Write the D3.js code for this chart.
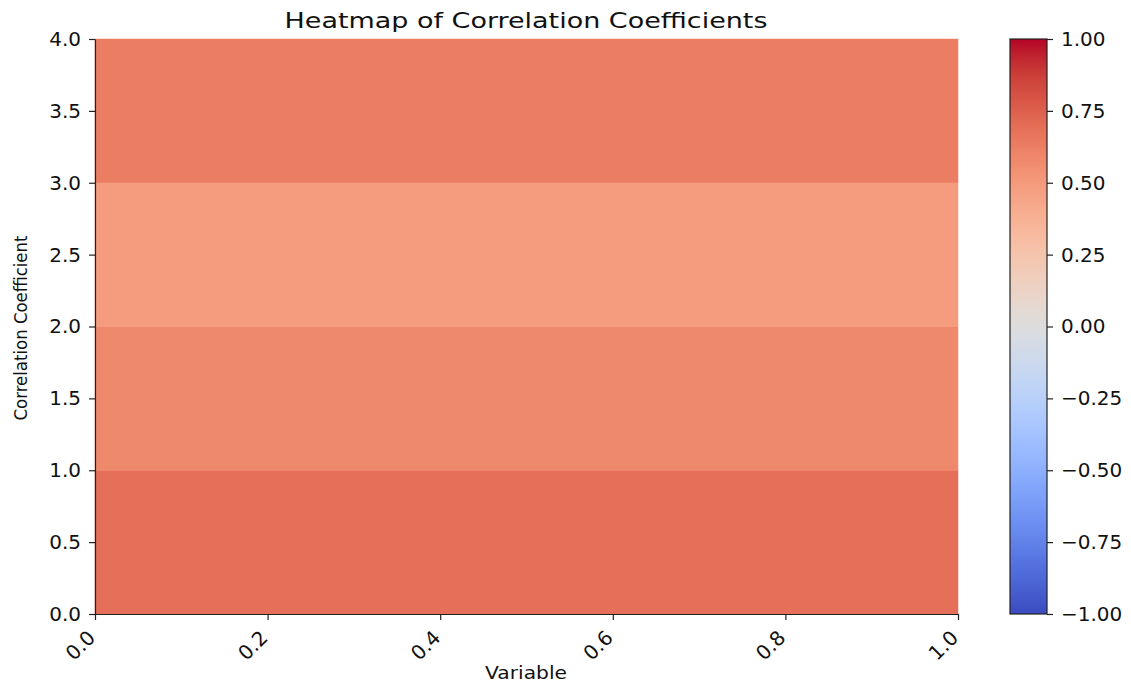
<!DOCTYPE html>
<html>
<head>
<meta charset="utf-8">
<script src="https://cdn.jsdelivr.net/npm/d3@7"></script>
<style>
  html, body { margin: 0; padding: 0; background: #fff; }
  text { font-family: "DejaVu Sans", sans-serif; fill: #111; }
</style>
</head>
<body>
<svg id="chart" width="1131" height="685"></svg>
<script>
// ---- data ----
const rowStarts = [0, 1, 2, 3];            // y-bin lower edges
const rowValues = [0.69, 0.58, 0.49, 0.63]; // correlation per row
const xTicks = [0.0, 0.2, 0.4, 0.6, 0.8, 1.0];
const yTicks = [0.0, 0.5, 1.0, 1.5, 2.0, 2.5, 3.0, 3.5, 4.0];
const cbTicks = [-1.0, -0.75, -0.5, -0.25, 0.0, 0.25, 0.5, 0.75, 1.0];
const titleText = "Heatmap of Correlation Coefficients";
const xLabel = "Variable";
const yLabel = "Correlation Coefficient";

// matplotlib coolwarm samples
const coolwarmStops = [
  [59,76,192],[68,90,204],[77,104,215],[87,117,225],[98,130,234],[108,142,241],
  [119,154,247],[130,165,251],[141,176,254],[152,185,255],[163,194,255],[174,201,253],
  [184,208,249],[194,213,244],[204,217,238],[213,219,230],[221,221,221],[229,216,209],
  [236,211,197],[241,204,185],[245,196,173],[247,187,160],[247,177,148],[247,166,135],
  [244,154,123],[241,141,111],[236,127,99],[229,112,88],[222,96,77],[213,80,66],
  [203,62,56],[192,40,47],[180,4,38]
];
const coolwarm = d3.interpolateRgbBasis(coolwarmStops.map(c => d3.rgb(c[0], c[1], c[2])));
const color = d3.scaleSequential(coolwarm).domain([-1, 1]);

const svg = d3.select("#chart");
const m = {left: 95, right: 958, top: 39, bottom: 614};

const x = d3.scaleLinear().domain([0, 1]).range([m.left, m.right]);
const y = d3.scaleLinear().domain([0, 4]).range([m.bottom, m.top]);

// cells
svg.append("g").selectAll("rect").data(rowStarts).join("rect")
  .attr("x", x(0))
  .attr("width", x(1) - x(0))
  .attr("y", d => y(d + 1))
  .attr("height", d => y(d) - y(d + 1))
  .attr("fill", (d, i) => color(rowValues[i]))
  .attr("stroke", (d, i) => color(rowValues[i]))
  .attr("stroke-width", 0.5);

// axes
const fmt1 = d3.format(".1f");
const xAxis = svg.append("g").attr("transform", `translate(0,${m.bottom})`)
  .call(d3.axisBottom(x).tickValues(xTicks).tickFormat(fmt1).tickSize(6).tickSizeOuter(0));
xAxis.selectAll("text")
  .attr("font-size", 20)
  .attr("text-anchor", "end")
  .attr("x", 0).attr("y", 0).attr("dx", 0).attr("dy", "0.35em")
  .attr("transform", "translate(-4,20) rotate(-45)");

const yAxis = svg.append("g").attr("transform", `translate(${m.left},0)`)
  .call(d3.axisLeft(y).tickValues(yTicks).tickFormat(fmt1).tickSize(6).tickSizeOuter(0));
yAxis.selectAll("text").attr("font-size", 20).attr("x", -14);

[xAxis, yAxis].forEach(a => {
  a.selectAll("path, line").attr("stroke", "#222").attr("stroke-width", 1.2);
  a.selectAll("text").attr("fill", "#111").attr("font-family", "DejaVu Sans");
});

// title and labels
svg.append("text").attr("x", 526).attr("y", 28).attr("text-anchor", "middle")
  .attr("font-size", 22).attr("textLength", 483).attr("lengthAdjust", "spacingAndGlyphs")
  .text(titleText);
svg.append("text").attr("x", 526).attr("y", 679).attr("text-anchor", "middle")
  .attr("font-size", 17).attr("textLength", 82).attr("lengthAdjust", "spacingAndGlyphs")
  .text(xLabel);
svg.append("text").attr("transform", "translate(27,328) rotate(-90)").attr("text-anchor", "middle")
  .attr("font-size", 17).attr("textLength", 185).attr("lengthAdjust", "spacingAndGlyphs")
  .text(yLabel);

// colorbar
const cb = {x0: 1010, x1: 1047};
const cy = d3.scaleLinear().domain([-1, 1]).range([m.bottom, m.top]);
const defs = svg.append("defs");
const grad = defs.append("linearGradient").attr("id", "cbgrad")
  .attr("x1", 0).attr("y1", 1).attr("x2", 0).attr("y2", 0);
d3.range(0, 1.0001, 0.02).forEach(t => {
  grad.append("stop").attr("offset", t).attr("stop-color", coolwarm(t));
});
svg.append("rect").attr("x", cb.x0).attr("y", cy(1))
  .attr("width", cb.x1 - cb.x0).attr("height", cy(-1) - cy(1))
  .attr("fill", "url(#cbgrad)").attr("stroke", "#222").attr("stroke-width", 1.2);
const cbAxis = svg.append("g").attr("transform", `translate(${cb.x1},0)`)
  .call(d3.axisRight(cy).tickValues(cbTicks).tickFormat(d3.format(".2f")).tickSize(6).tickSizeOuter(0));
cbAxis.select(".domain").remove();
cbAxis.selectAll("line").attr("stroke", "#222").attr("stroke-width", 1.2);
cbAxis.selectAll("text").attr("font-size", 20).attr("x", 14).attr("fill", "#111")
  .attr("font-family", "DejaVu Sans")
  .text(d => d3.format(".2f")(d).replace("-", "\u2212"));
</script>
</body>
</html>
